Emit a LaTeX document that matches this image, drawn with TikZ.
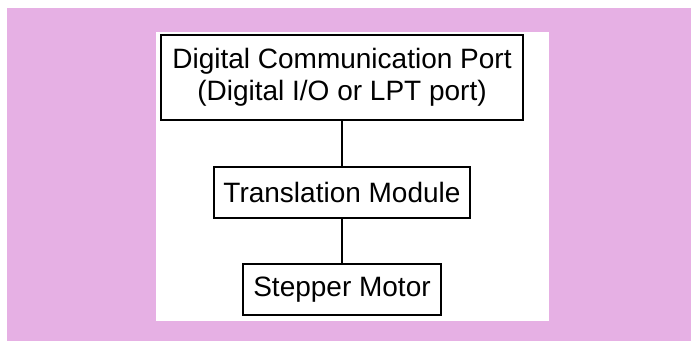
\documentclass[tikz,border=0pt]{standalone}
\usepackage{fontspec}
\setmainfont{Liberation Sans}
\definecolor{bgpink}{RGB}{230,176,228}
\begin{document}
\begin{tikzpicture}[x=1pt,y=-1pt,
  blockbox/.style={draw=black,line width=1.3pt,fill=white,inner sep=0pt,
    align=center,font=\fontsize{28}{32}\selectfont},
  link/.style={draw=black,line width=1.3pt}]
  % canvas and backgrounds
  \useasboundingbox (0,0) rectangle (691,341);
  \fill[white] (0,0) rectangle (691,341);
  \fill[bgpink] (7,8) rectangle (691,341);
  \fill[white] (156,32) rectangle (549,321);
  % blocks, stacked on one vertical axis
  \node[blockbox,minimum width=362pt,minimum height=85pt] (port) at (342,77.5)
    {Digital Communication Port\\(Digital I/O or LPT port)};
  \node[blockbox,minimum width=256pt,minimum height=51pt] (trans) at (342,192.5)
    {Translation Module};
  \node[blockbox,minimum width=198pt,minimum height=51pt] (motor) at (342,289.5)
    {Stepper Motor};
  % connectors
  \draw[link] (port.south) -- (trans.north);
  \draw[link] (trans.south) -- (motor.north);
\end{tikzpicture}
\end{document}
